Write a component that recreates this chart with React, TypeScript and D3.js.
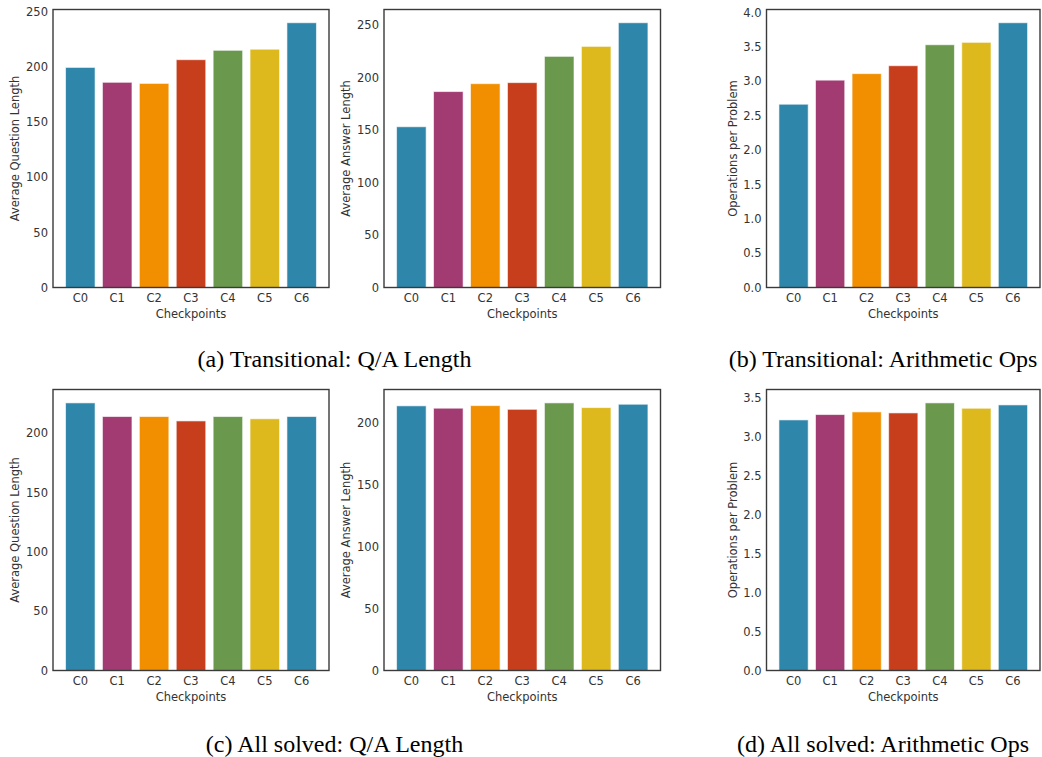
import * as d3 from 'd3';
import React, { useEffect, useRef } from 'react';

const checkpoints = ['C0', 'C1', 'C2', 'C3', 'C4', 'C5', 'C6'];
const barColors = ['#2E86AB', '#A23B72', '#F18F01', '#C73E1D', '#6A994E', '#DDB91E', '#2E86AB'];

const transQuestionLen = [199.5, 186, 185, 206.5, 215, 216, 240];
const transAnswerLen = [153, 186.5, 194, 195, 220, 229.5, 252];
const transOps = [2.665, 3.015, 3.11, 3.225, 3.53, 3.565, 3.85];
const solvedQuestionLen = [225.5, 214, 214, 210.3, 214, 212.1, 214];
const solvedAnswerLen = [214, 212.1, 214.2, 211.2, 216.4, 212.6, 215.3];
const solvedOps = [3.221, 3.29, 3.324, 3.311, 3.44, 3.371, 3.414];

const captions = [
  '(a) Transitional: Q/A Length',
  '(b) Transitional: Arithmetic Ops',
  '(c) All solved: Q/A Length',
  '(d) All solved: Arithmetic Ops',
];

export default function App() {
  const ref = useRef<SVGSVGElement>(null);

  useEffect(() => {
    const svg = d3.select(ref.current);
    svg.selectAll('*').remove();

    function panel(box: number[], values: number[], ylabel: string, step: number, fmt: string) {
      const [left, top, right, bottom] = box;
      const g = svg.append('g');
      const x = d3.scaleBand().domain(checkpoints).range([left, right]).paddingInner(0.2).paddingOuter(0.34);
      const ymax = d3.max(values)! * 1.05;
      const y = d3.scaleLinear().domain([0, ymax]).range([bottom, top]);
      const ticks = d3.range(0, ymax + 1e-9, step);

      g.selectAll('rect.bar')
        .data(values)
        .enter()
        .append('rect')
        .attr('class', 'bar')
        .attr('x', (d, i) => x(checkpoints[i])!)
        .attr('width', x.bandwidth())
        .attr('y', (d) => y(d))
        .attr('height', (d) => y(0) - y(d))
        .attr('fill', (d, i) => barColors[i])
        .attr('stroke', 'rgba(255,255,255,0.6)')
        .attr('stroke-width', 1);

      const yAxis = g
        .append('g')
        .attr('transform', `translate(${left},0)`)
        .call(d3.axisLeft(y).tickValues(ticks).tickSize(0).tickPadding(5).tickFormat(d3.format(fmt)));
      yAxis.select('.domain').remove();
      yAxis.selectAll('text').attr('fill', '#333').style('font-size', '11.5px').style('font-family', 'DejaVu Sans');

      const xAxis = g
        .append('g')
        .attr('transform', `translate(0,${bottom})`)
        .call(d3.axisBottom(x).tickSize(0).tickPadding(6));
      xAxis.select('.domain').remove();
      xAxis.selectAll('text').attr('fill', '#333').style('font-size', '11.5px').style('font-family', 'DejaVu Sans');

      g.append('rect')
        .attr('x', left)
        .attr('y', top)
        .attr('width', right - left)
        .attr('height', bottom - top)
        .attr('fill', 'none')
        .attr('stroke', '#3a3a3a')
        .attr('stroke-width', 1.4);

      g.append('text')
        .attr('x', (left + right) / 2)
        .attr('y', bottom + 30)
        .attr('text-anchor', 'middle')
        .attr('fill', '#333')
        .style('font-size', '11.5px')
        .style('font-family', 'DejaVu Sans')
        .text('Checkpoints');

      const labelX = fmt === 'd' ? left - 34 : left - 30;
      g.append('text')
        .attr('transform', `translate(${labelX},${(top + bottom) / 2}) rotate(-90)`)
        .attr('text-anchor', 'middle')
        .attr('fill', '#333')
        .style('font-size', '11.5px')
        .style('font-family', 'DejaVu Sans')
        .text(ylabel);
    }

    panel([53, 9.5, 329, 287.5], transQuestionLen, 'Average Question Length', 50, 'd');
    panel([384, 9.5, 660.5, 287.5], transAnswerLen, 'Average Answer Length', 50, 'd');
    panel([766.5, 9.5, 1040, 287.5], transOps, 'Operations per Problem', 0.5, '.1f');
    panel([53, 389.5, 329, 670.5], solvedQuestionLen, 'Average Question Length', 50, 'd');
    panel([384, 389.5, 660.5, 670.5], solvedAnswerLen, 'Average Answer Length', 50, 'd');
    panel([766.5, 389.5, 1040, 670.5], solvedOps, 'Operations per Problem', 0.5, '.1f');

    const capPos = [
      [334.5, 367],
      [883, 367],
      [334.5, 752],
      [883, 752],
    ];
    svg
      .selectAll('text.caption')
      .data(captions)
      .enter()
      .append('text')
      .attr('class', 'caption')
      .attr('x', (d, i) => capPos[i][0])
      .attr('y', (d, i) => capPos[i][1])
      .attr('text-anchor', 'middle')
      .attr('fill', '#000')
      .style('font-size', '24px')
      .style('font-family', "'Liberation Serif', 'Times New Roman', serif")
      .text((d) => d);
  }, []);

  return (
    <svg
      ref={ref}
      width={1042}
      height={757}
      style={{ position: 'absolute', left: 0, top: 0, background: '#fff' }}
    />
  );
}
